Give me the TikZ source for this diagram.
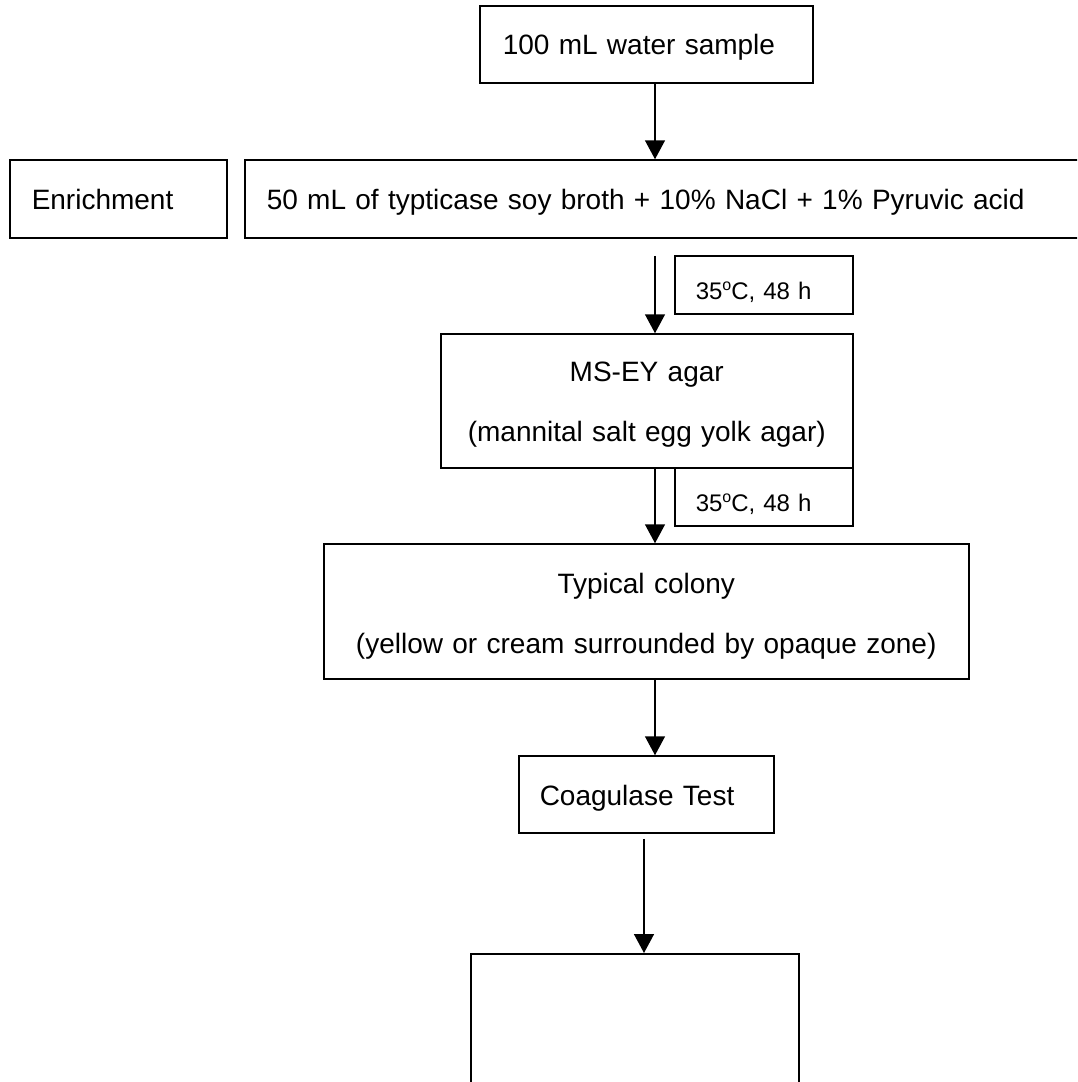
\documentclass[tikz,border=0pt]{standalone}
\usepackage{fontspec}
\setmainfont{Liberation Sans}
\usetikzlibrary{arrows.meta}

\newcommand{\degsup}{\raisebox{9.5pt}{\fontsize{16}{16}\selectfont o}}

\begin{document}
\begin{tikzpicture}[x=1pt,y=-1pt,
  box/.style={draw, line width=1.5pt, rectangle, inner ysep=0pt,
    text height=20pt, text depth=0pt,
    font=\fontsize{28}{60}\selectfont},
  leftbox/.style={box, align=left},
  midbox/.style={box, align=center, text height=21pt, text depth=60pt},
  tempbox/.style={draw, line width=1.5pt, rectangle, inner ysep=0pt, inner xsep=21pt,
    text height=29pt, text depth=0pt,
    align=left, font=\fontsize{24}{28}\selectfont},
  arr/.style={line width=1.5pt, -{Triangle[length=19pt,width=20pt]}}]

\useasboundingbox (0,0) rectangle (1077,1082);
\clip (0,0) rectangle (1077,1082);

% main column of steps
\node[leftbox, anchor=west, inner xsep=23pt, text width=287pt, minimum height=77pt]
  (sample) at (479,44.5) {100 mL water sample};
\node[leftbox, anchor=west, inner xsep=22pt, text width=173pt, minimum height=78pt]
  (enrlabel) at (9,199) {Enrichment};
\node[leftbox, anchor=west, inner xsep=22pt, text width=812pt, minimum height=78pt]
  (enr) at (244,199) {50 mL of typticase soy broth + 10\% NaCl + 1\% Pyruvic acid};
\node[midbox, anchor=west, inner xsep=10pt, text width=392pt, minimum height=134pt]
  (msey) at (440,401) {MS-EY agar\\(mannital salt egg yolk agar)};
\node[midbox, anchor=west, inner xsep=10pt, text width=625pt, minimum height=135pt,
  text height=23pt]
  (colony) at (323,611.5) {Typical colony\\(yellow or cream surrounded by opaque zone)};
\node[leftbox, anchor=west, inner xsep=21pt, text width=213pt, minimum height=77pt,
  text height=22pt]
  (coag) at (518,794.5) {Coagulase Test};
\node[draw, line width=1.5pt, rectangle, anchor=north west,
  minimum width=328pt, minimum height=170pt]
  (result) at (470,953) {};

% incubation conditions
\node[tempbox, anchor=west, text width=136pt, minimum height=58pt]
  (inc1) at (674,285) {35\degsup C, 48 h};
\node[tempbox, anchor=west, text width=136pt, minimum height=58pt]
  (inc2) at (674,497) {35\degsup C, 48 h};

% flow arrows
\coordinate (ax) at (655,0);
\coordinate (bx) at (644,0);
\draw[arr] (sample.south -| ax) -- (enr.north -| ax);
\draw[arr, shorten <=17pt] (enr.south -| ax) -- (msey.north -| ax);
\draw[arr] (msey.south -| ax) -- (colony.north -| ax);
\draw[arr] (colony.south -| ax) -- (coag.north -| ax);
\draw[arr, shorten <=5pt] (coag.south -| bx) -- (result.north -| bx);
\end{tikzpicture}
\end{document}
